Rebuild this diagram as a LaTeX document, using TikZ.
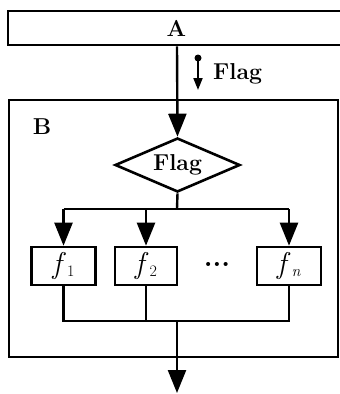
\documentclass[tikz,border=0pt]{standalone}
\usetikzlibrary{arrows.meta,shapes.geometric}
\tikzset{
  line/.style={line width=2.4pt},
  box/.style={draw, line width=2.6pt, inner sep=0pt},
  big/.style={-{Triangle[length=23pt,width=18pt]}, line width=2.4pt},
  lbl/.style={font=\fontsize{23}{25}\selectfont\bfseries, inner sep=0pt},
  fbox/.style={box, minimum width=64pt, minimum height=38pt, font=\fontsize{30}{32}\selectfont},
}
\newcommand{\fsub}[1]{\textit{f}\hspace{1pt}\raisebox{-3pt}{\fontsize{16}{16}\selectfont #1}}
\begin{document}
\begin{tikzpicture}[x=1pt,y=-1pt]
\useasboundingbox (0,0) rectangle (340,394);
\clip (0,0) rectangle (340,394);
% A box
\node[box, minimum width=337pt, minimum height=34pt, lbl, draw] (A) at (176.5,28) {A};
% B box
\node[box, minimum width=329pt, minimum height=257pt] (B) at (173.5,228.5) {};
\node[lbl, anchor=center] (Blbl) at (42,127) {B};
% diamond
\node[diamond, draw, line width=2.6pt, inner sep=0pt, aspect=2.3, minimum width=125pt, minimum height=54pt, lbl] (D) at (177.5,165) {Flag};
% function boxes
\node[fbox] (f1) at (63.5,266) {\fsub{1}};
\node[fbox, minimum width=62pt] (f2) at (146,266) {\fsub{2}};
\node[fbox] (fn) at (289,266) {\fsub{\textit{n}}};
\node[font=\fontsize{28}{30}\selectfont\bfseries, inner sep=0pt] (dots) at (217,264) {...};
% connectors
\coordinate (Bin) at (177,138);
\draw[big] (A.south -| Bin) -- (D.north);
\coordinate (split) at (177,209);
\draw[line] (D.south) -- (split);
\draw[line] (f1.north |- split) -- (fn.north |- split);
\draw[big] (f1.north |- split) -- (f1.north);
\draw[big] (f2.north |- split) -- (f2.north);
\draw[big] (fn.north |- split) -- (fn.north);
\coordinate (join) at (177,321);
\draw[line] (f1.south) -- (f1.south |- join) -- (fn.south |- join) -- (fn.south);
\draw[line] (f2.south) -- (f2.south |- join);
\coordinate (out) at (177,393);
\draw[big] (join) -- (out);
% signal label
\coordinate (sigtop) at (198,58);
\coordinate (sigend) at (198,90);
\fill (sigtop) circle (3.5pt);
\draw[-{Triangle[length=12pt,width=9pt]}, line width=2pt] (sigtop) -- (sigend);
\node[lbl, anchor=west] (flag) at (213,74) {Flag};
\end{tikzpicture}
\end{document}
